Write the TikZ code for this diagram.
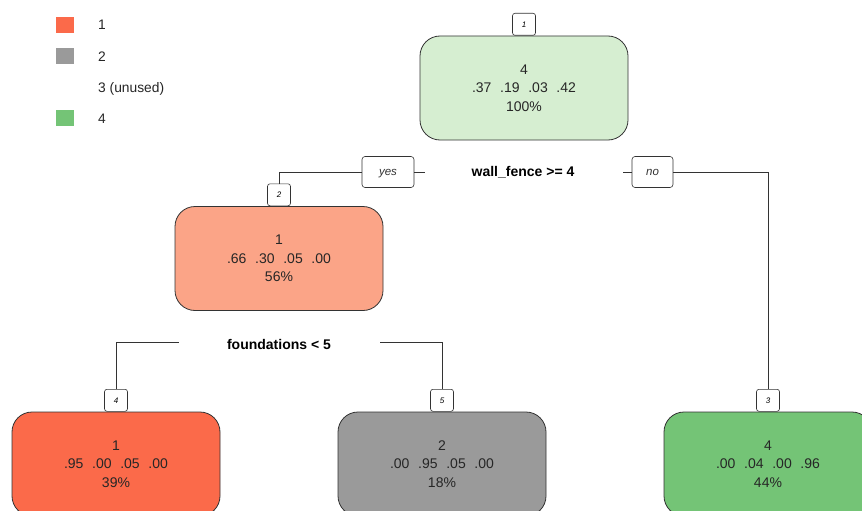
\documentclass[tikz,border=0pt]{standalone}
\usepackage{fontspec}
\setmainfont{Liberation Sans}
\definecolor{cRoot}{HTML}{D6EED1}
\definecolor{cSalmon}{HTML}{FBA487}
\definecolor{cRed}{HTML}{FB6A4A}
\definecolor{cGray}{HTML}{9A9A9A}
\definecolor{cGreen}{HTML}{74C476}
\definecolor{cLine}{HTML}{333333}
\newcommand{\gapx}{\hspace{0.62em}}
\tikzset{
  treebox/.style={draw=cLine, line width=0.8pt, rounded corners=20pt, minimum width=208pt, minimum height=104pt, align=center, inner sep=0pt, font=\fontsize{14}{18.5}\selectfont, text=black!85},
  numbox/.style={draw=cLine, line width=0.6pt, fill=white, rounded corners=2.5pt, minimum width=23pt, minimum height=22pt, inner sep=0pt, font=\fontsize{8}{8}\selectfont\itshape},
  ynbox/.style={draw=cLine, line width=0.6pt, fill=white, rounded corners=3pt, minimum height=31pt, inner sep=0pt, text height=6.2pt, text depth=0pt, font=\fontsize{11.5}{12}\selectfont\itshape, text=black!80},
  splittext/.style={font=\fontsize{14}{15}\selectfont\bfseries, inner sep=0pt},
  conn/.style={draw=cLine, line width=0.6pt},
  legsq/.style={minimum width=18pt, minimum height=16pt, inner sep=0pt},
  legtext/.style={anchor=west, inner sep=0pt, font=\fontsize{13.8}{15}\selectfont, text=black!85}
}
\begin{document}
\begin{tikzpicture}[x=1pt,y=-1pt]
\useasboundingbox (0,0) rectangle (862,511);
\clip (0,0) rectangle (862,511);
\fill[white] (0,0) rectangle (862,511);
% legend
\node[legsq, fill=cRed] (lg1) at (65,25) {};
\node[legsq, fill=cGray] (lg2) at (65,56) {};
\node[legsq, fill=cGreen] (lg4) at (65,118) {};
\node[legtext] (lt1) at (98,25) {1};
\node[legtext] (lt2) at (98,57) {2};
\node[legtext] (lt3) at (98,89) {3 (unused)};
\node[legtext] (lt4) at (98,119) {4};
% nodes
\node[treebox, fill=cRoot] (n1) at (524,88) {4\\.37\gapx.19\gapx.03\gapx.42\\100\%};
\node[numbox, anchor=south] (l1) at (n1.north) {1};
\node[splittext] (s1) at (523,172) {wall\_fence >= 4};
\node[ynbox, minimum width=52pt] (yes) at (388,172) {yes};
\node[ynbox, minimum width=41pt] (no) at (652.5,172) {no};
\coordinate (ys) at (425,172);
\coordinate (ns) at (623,172);
\node[treebox, fill=cSalmon] (n2) at (279,258.5) {1\\.66\gapx.30\gapx.05\gapx.00\\56\%};
\node[numbox, anchor=south] (l2) at (n2.north) {2};
\node[splittext] (s2) at (279,344) {foundations < 5};
\coordinate (fs) at (179,342);
\coordinate (fe) at (380,342);
\node[treebox, fill=cRed] (n4) at (116,464) {1\\.95\gapx.00\gapx.05\gapx.00\\39\%};
\node[numbox, anchor=south] (l4) at (n4.north) {4};
\node[treebox, fill=cGray] (n5) at (442,464) {2\\.00\gapx.95\gapx.05\gapx.00\\18\%};
\node[numbox, anchor=south] (l5) at (n5.north) {5};
\node[treebox, fill=cGreen] (n3) at (768,464) {4\\.00\gapx.04\gapx.00\gapx.96\\44\%};
\node[numbox, anchor=south] (l3) at (n3.north) {3};
% connectors
\draw[conn] (l2.north) |- (yes.west);
\draw[conn] (yes.east) -- (ys);
\draw[conn] (ns) -- (no.west);
\draw[conn] (no.east) -| (l3.north);
\draw[conn] (l4.north) |- (fs);
\draw[conn] (fe) -| (l5.north);
\end{tikzpicture}
\end{document}
